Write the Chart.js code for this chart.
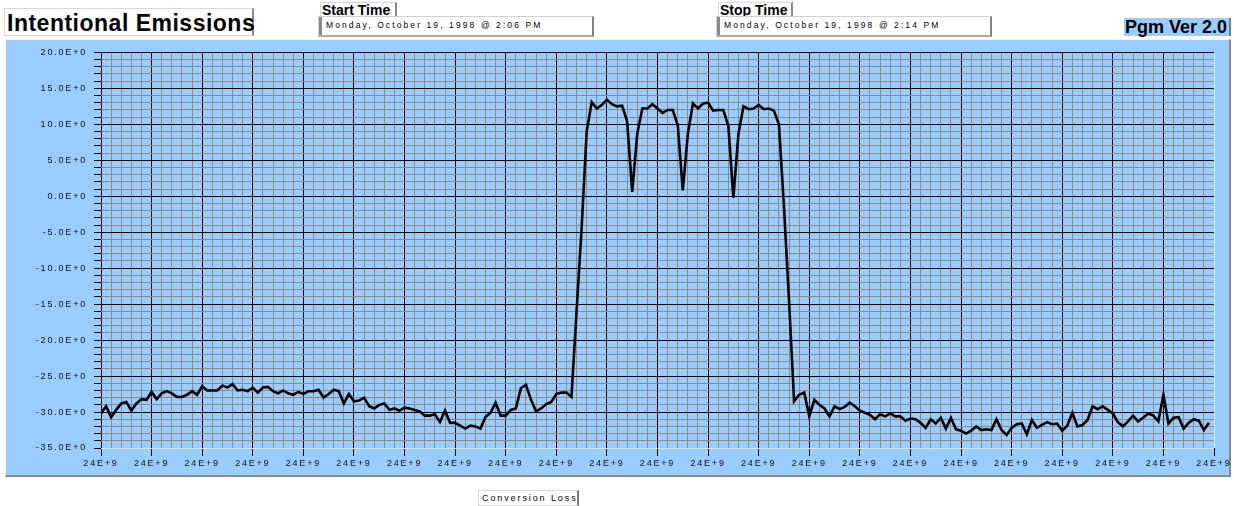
<!DOCTYPE html>
<html>
<head>
<meta charset="utf-8">
<script src="https://cdn.jsdelivr.net/npm/chart.js@4"></script>
<style>
  body { margin: 0; background: #fff; font-family: "Liberation Sans", Arial, sans-serif; }
  .box { position: absolute; background: #fff; box-sizing: border-box; white-space: nowrap; }
  #title { left: 4px; top: 8px; width: 250px; height: 28px; font-weight: bold; font-size: 23px;
           letter-spacing: 0.5px; line-height: 28px; padding-left: 2px;
           border: 1px solid #d8d8d8; border-right: 2px solid #8a8a8a; }
  .lbl { height: 14px; font-weight: bold; font-size: 14px; line-height: 14px; padding-left: 1px;
         border: 1px solid #d8d8d8; border-right: 2px solid #8a8a8a; border-bottom: none; }
  .field { height: 21px; font-size: 8.5px; letter-spacing: 2.1px; line-height: 17px; color: #000;
           padding-left: 7px; border: 1px solid #d0d0d0; border-right: 2px solid #808080;
           border-bottom: 2px solid #a8a8a8; box-shadow: inset 3px 0 0 #8a8a8a; }
  #ver { left: 1124px; top: 18px; width: 107px; height: 18px; background: #99ccff; font-weight: bold;
         font-size: 18px; line-height: 18px; padding-left: 1px; border-right: 2px solid #777; }
  #panel { position: absolute; left: 5px; top: 39px; width: 1226px; height: 438px; box-sizing: border-box;
           background: #99ccff; border-top: 1px solid #eef4fb; border-left: 1px solid #eef4fb;
           border-right: 2px solid #8a8a8a; border-bottom: 2px solid #8a8a8a; }
  #chartWrap { position: absolute; left: -1px; top: 0px; width: 1225px; height: 436px; }
  #xname { left: 478px; top: 490px; width: 101px; height: 16px; font-size: 9px; letter-spacing: 1.9px;
           line-height: 15px; padding-left: 3px; color: #000;
           border: 1px solid #d8d8d8; border-right: 2px solid #777; }
</style>
</head>
<body>
<div class="box" id="title">Intentional Emissions</div>
<div class="box lbl" style="left:320px; top:2px; width:77px;">Start Time</div>
<div class="box field" style="left:318px; top:16px; width:276px;">Monday, October 19, 1998 @ 2:06 PM</div>
<div class="box lbl" style="left:718px; top:2px; width:75px;">Stop Time</div>
<div class="box field" style="left:716px; top:16px; width:276px;">Monday, October 19, 1998 @ 2:14 PM</div>
<div class="box" id="ver">Pgm Ver 2.0</div>
<div id="panel"><div id="chartWrap"><canvas id="loss-graph" width="1225" height="436"></canvas></div></div>
<div class="box" id="xname">Conversion Loss</div>
<script>
// sweep samples, one value per point (dB)
var lossValues = [
  -30.2, -29.2, -30.7, -29.7, -28.8, -28.6, -29.8, -28.8, -28.2, -28.3,
  -27.2, -28.2, -27.4, -27.1, -27.4, -27.9, -27.9, -27.6, -27.1, -27.6,
  -26.4, -27.0, -27.0, -27.0, -26.3, -26.6, -26.1, -27.0, -26.9, -27.1,
  -26.6, -27.3, -26.6, -26.5, -27.1, -27.4, -27.0, -27.4, -27.6, -27.2,
  -27.5, -27.1, -27.1, -26.9, -28.0, -27.5, -26.9, -27.1, -28.8, -27.5,
  -28.5, -28.4, -28.0, -29.2, -29.5, -29.0, -28.8, -29.7, -29.5, -29.8,
  -29.4, -29.5, -29.7, -29.9, -30.5, -30.5, -30.3, -31.4, -29.8, -31.5,
  -31.5, -31.9, -32.3, -31.9, -32.0, -32.3, -30.7, -30.1, -28.7, -30.5,
  -30.5, -29.7, -29.5, -26.7, -26.2, -28.3, -29.9, -29.5, -28.9, -28.6,
  -27.5, -27.3, -27.3, -27.9, -16.0, -4.5, 9.0, 13.1, 12.2, 12.7,
  13.4, 12.8, 12.5, 12.6, 10.4, 0.6, 8.7, 12.2, 12.2, 12.8,
  12.2, 11.6, 12.0, 12.0, 9.9, 0.8, 8.7, 12.9, 12.2, 12.9,
  13.0, 11.9, 12.0, 12.0, 9.8, -0.2, 8.7, 12.5, 12.1, 12.2,
  12.7, 12.1, 12.2, 11.9, 10.0, -1.5, -14.5, -28.5, -27.6, -27.3,
  -30.6, -28.3, -29.0, -29.5, -30.6, -29.2, -29.6, -29.3, -28.7, -29.2,
  -29.8, -30.1, -30.4, -31.0, -30.3, -30.6, -30.2, -30.6, -30.6, -31.2,
  -30.9, -31.0, -31.5, -32.2, -31.0, -31.6, -30.8, -32.3, -30.8, -32.4,
  -32.6, -33.0, -32.6, -32.0, -32.5, -32.4, -32.5, -31.0, -32.5, -33.2,
  -32.2, -31.7, -31.6, -33.1, -31.1, -32.2, -31.8, -31.4, -31.7, -31.6,
  -32.6, -31.9, -30.1, -32.0, -31.8, -31.1, -29.2, -29.6, -29.2, -29.7,
  -30.2, -31.4, -32.0, -31.3, -30.5, -31.3, -30.8, -30.2, -30.5, -31.3,
  -27.6, -31.6, -30.8, -30.7, -32.3, -31.5, -31.0, -31.2, -32.5, -31.5
];
var freqLabel = "24E+9";
var yMin = -35, yMax = 20;
var xMax = 220;

var points = lossValues.map(function (v, i) { return { x: i, y: v }; });

var spacing = {
  id: "spacing",
  beforeDraw: function (c) { c.ctx.letterSpacing = "1.8px"; }
};

var minorGrid = "#8d8a88";

var chart = document.getElementById("loss-graph").getContext("2d");
var line_graph = new Chart(chart, {
  type: "line",
  data: {
    datasets: [{
      label: "Conversion Loss",
      data: points,
      borderColor: "#000",
      borderWidth: 2.6,
      pointRadius: 0,
      tension: 0,
      fill: false
    }]
  },
  options: {
    responsive: false,
    animation: false,
    layout: { padding: { top: 8, right: 16, left: 0, bottom: 0 } },
    plugins: { legend: { display: false }, tooltip: { enabled: false } },
    scales: {
      x: {
        type: "linear",
        min: 0,
        max: xMax,
        border: { display: false },
        afterFit: function (s) { s.height = 28; s.paddingLeft = 0; s.paddingRight = 0; },
        grid: {
          tickLength: 8,
          color: function (c) {
            var v = c.tick.value;
            if (v === xMax) return "#d4e9ff";
            return v % 10 === 0 ? "#000" : minorGrid;
          },
          tickColor: function (c) { return c.tick.value % 10 === 0 ? "#000" : "rgba(0,0,0,0)"; },
          lineWidth: 1
        },
        ticks: {
          stepSize: 2,
          autoSkip: false,
          maxRotation: 0,
          padding: 2,
          color: "#111",
          font: { family: "Liberation Sans", size: 9 },
          callback: function (v) { return v % 10 === 0 ? freqLabel : ""; }
        }
      },
      y: {
        min: yMin,
        max: yMax,
        border: { display: false },
        afterFit: function (s) { s.width = 96; },
        grid: {
          tickLength: 7,
          color: function (c) {
            var v = c.tick.value;
            if (v === yMin) return "#d4e9ff";
            return v % 5 === 0 ? "#000" : minorGrid;
          },
          tickColor: "#000",
          lineWidth: 1
        },
        ticks: {
          stepSize: 1,
          autoSkip: false,
          padding: 7,
          color: "#111",
          font: { family: "Liberation Sans", size: 9 },
          callback: function (v) { return v % 5 === 0 ? v.toFixed(1) + "E+0" : ""; }
        }
      }
    }
  },
  plugins: [spacing]
});
</script>
</body>
</html>
